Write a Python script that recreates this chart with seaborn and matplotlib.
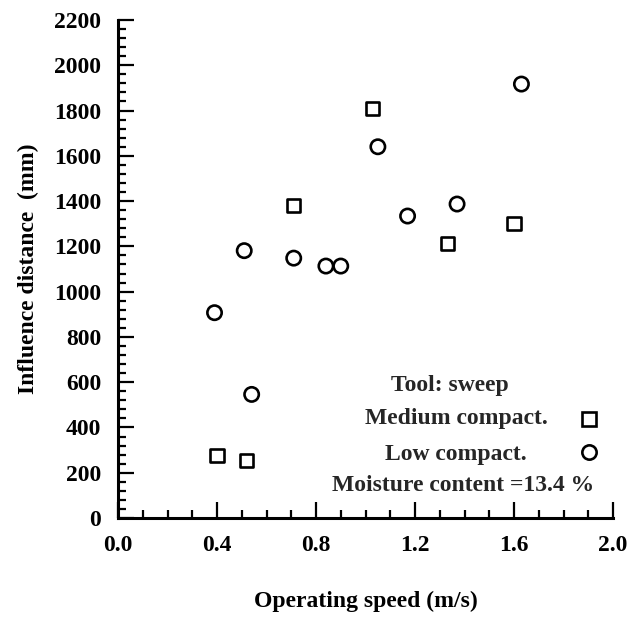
import numpy as np
import pandas as pd
import seaborn as sns
import matplotlib
matplotlib.use("Agg")
import matplotlib.pyplot as plt
from matplotlib.lines import Line2D
from matplotlib.ticker import MultipleLocator

# Data (tool: sweep, moisture content 13.4 %)
medium_speed = [0.40, 0.52, 0.71, 1.03, 1.33, 1.60]
medium_dist = [275, 255, 1380, 1810, 1213, 1302]
low_speed = [0.39, 0.51, 0.54, 0.71, 0.84, 0.90, 1.05, 1.17, 1.37, 1.63]
low_dist = [907, 1181, 546, 1148, 1113, 1113, 1640, 1334, 1387, 1917]

sns.set_theme(style="ticks")
plt.rcParams["font.family"] = ["Liberation Serif", "DejaVu Serif"]
plt.rcParams["font.size"] = 17
plt.rcParams["font.weight"] = "bold"
plt.rcParams["axes.labelweight"] = "bold"

df_med = pd.DataFrame({"speed": medium_speed, "dist": medium_dist})
df_low = pd.DataFrame({"speed": low_speed, "dist": low_dist})

fig = plt.figure(figsize=(6.31, 6.17), dpi=100)
ax = fig.add_axes([118 / 631, 1 - 518 / 617, 495 / 631, 498 / 617])

sns.scatterplot(data=df_med, x="speed", y="dist", marker="s", s=88,
                facecolors="none", edgecolor="black", linewidth=1.9, ax=ax)
sns.scatterplot(data=df_low, x="speed", y="dist", marker="o", s=106,
                facecolors="none", edgecolor="black", linewidth=1.9, ax=ax)

ax.set_xlim(0, 2.0)
ax.set_ylim(0, 2200)
ax.xaxis.set_major_locator(MultipleLocator(0.4))
ax.xaxis.set_minor_locator(MultipleLocator(0.1))
ax.yaxis.set_major_locator(MultipleLocator(200))
ax.yaxis.set_minor_locator(MultipleLocator(40))
ax.xaxis.set_major_formatter(matplotlib.ticker.FormatStrFormatter("%.1f"))
ax.tick_params(which="major", direction="in", length=11.5, width=1.6,
               color="black", labelsize=17, labelcolor="black", pad=12)
ax.tick_params(which="minor", direction="in", length=5.8, width=1.6, color="black")
for side in ["top", "right"]:
    ax.spines[side].set_visible(False)
for side in ["left", "bottom"]:
    ax.spines[side].set_linewidth(2.2)
    ax.spines[side].set_color("black")

ax.set_xlabel("Operating speed (m/s)", fontsize=17, labelpad=25, color="black")
ax.set_ylabel("Influence distance  (mm)", fontsize=17, labelpad=11, color="black")

# annotation block
ax.text(0.671, 0.267, "Tool: sweep", transform=ax.transAxes, ha="center", va="center", fontsize=17)
ax.text(0.683, 0.199, "Medium compact.", transform=ax.transAxes, ha="center", va="center", fontsize=17)
ax.text(0.683, 0.1275, "Low compact.", transform=ax.transAxes, ha="center", va="center", fontsize=17)
ax.text(0.697, 0.066, "Moisture content =13.4 %", transform=ax.transAxes, ha="center", va="center", fontsize=17)

handles = [
    Line2D([], [], marker="s", ls="none", mfc="none", mec="black", ms=9.4, mew=1.9),
    Line2D([], [], marker="o", ls="none", mfc="none", mec="black", ms=10.3, mew=1.9),
]
ax.legend(handles, ["", ""], loc="center", bbox_to_anchor=(0.951, 0.160),
          bbox_transform=ax.transAxes, frameon=False, handlelength=1,
          handletextpad=0, borderpad=0, borderaxespad=0, labelspacing=0.5,
          fontsize=17)

fig.savefig("out.png", dpi=100)
